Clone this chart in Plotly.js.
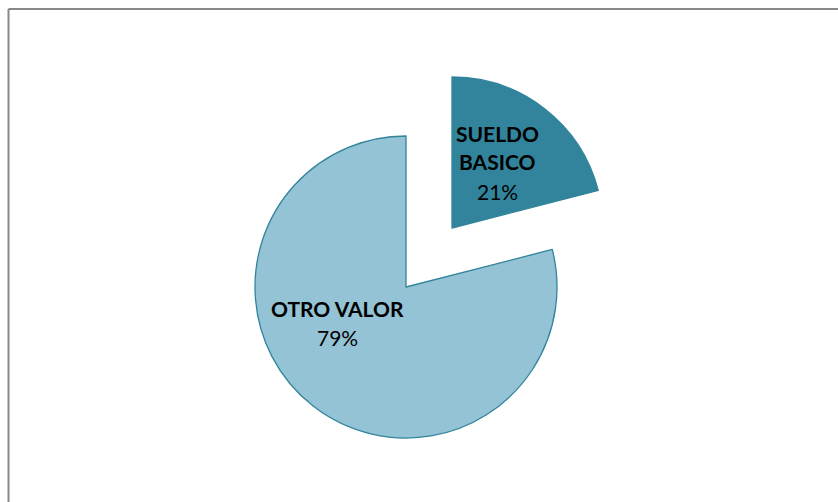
<!DOCTYPE html>
<html>
<head>
<meta charset="utf-8">
<script src="https://cdn.plot.ly/plotly-3.0.1.min.js"></script>
<style>
html,body{margin:0;padding:0;background:#fff;}
#chart{width:838px;height:502px;}
</style>
</head>
<body>
<div id="chart"></div>
<script>
var categories = ['SUELDO BASICO', 'OTRO VALOR'];
var labelLines = [['SUELDO', 'BASICO'], ['OTRO VALOR']];
var values = [21, 79];
var sliceColors = ['#31849B', '#93C3D5'];

var W = 838, H = 502;
function dom(cx, cy, r) {
  return {
    x: [(cx - r) / W, (cx + r) / W],
    y: [(H - cy - r) / H, (H - cy + r) / H]
  };
}

var common = {
  type: 'pie',
  labels: categories,
  values: values,
  sort: false,
  direction: 'clockwise',
  rotation: 0,
  textinfo: 'none',
  hoverinfo: 'label+percent',
  showlegend: false
};

// main pie (OTRO VALOR)
var t1 = Object.assign({}, common, {
  domain: dom(406, 287, 151),
  marker: {colors: ['rgba(0,0,0,0)', sliceColors[1]], line: {color: ['rgba(0,0,0,0)', '#31849B'], width: 1.3}}
});
// exploded slice (SUELDO BASICO)
var t2 = Object.assign({}, common, {
  domain: dom(452, 228, 151),
  marker: {colors: [sliceColors[0], 'rgba(0,0,0,0)'], line: {color: ['#31849B', 'rgba(0,0,0,0)'], width: 1.3}}
});

// label text (from the data arrays)
var total = values.reduce(function (a, b) { return a + b; }, 0);
var labelAnchor = [[497, 133], [337, 308]]; // pixel centre of first text line
var lineStep = 29;
var annotations = [];
labelLines.forEach(function (lines, i) {
  var ax = labelAnchor[i][0], ay = labelAnchor[i][1];
  var all = lines.map(function (s) { return '<b>' + s + '</b>'; });
  all.push(Math.round(values[i] / total * 100) + '%');
  all.forEach(function (txt, k) {
    annotations.push({
      xref: 'paper', yref: 'paper',
      x: ax / W, y: 1 - (ay + k * lineStep) / H,
      xanchor: 'center', yanchor: 'middle',
      text: txt, showarrow: false,
      font: {family: 'Lato, Calibri, sans-serif', size: 21, color: '#000'}
    });
  });
});

var layout = {
  width: W, height: H,
  margin: {l: 0, r: 0, t: 0, b: 0},
  paper_bgcolor: '#fff',
  annotations: annotations,
  shapes: [
    {type: 'line', xref: 'paper', yref: 'paper', x0: 8.5 / W, x1: 1, y0: 1 - 9 / H, y1: 1 - 9 / H, line: {color: '#888', width: 2}},
    {type: 'line', xref: 'paper', yref: 'paper', x0: 8.5 / W, x1: 8.5 / W, y0: 1 - 9 / H, y1: 0, line: {color: '#888', width: 2}}
  ]
};

Plotly.newPlot('chart', [t1, t2], layout, {displayModeBar: false, staticPlot: true});
</script>
</body>
</html>
